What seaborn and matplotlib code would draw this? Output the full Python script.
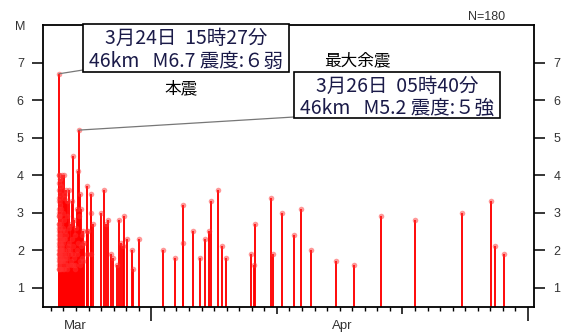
import matplotlib
matplotlib.use("Agg")
from matplotlib import pyplot as plt
from matplotlib.patches import Rectangle
import matplotlib.dates as mdates
import numpy as np
import pandas as pd
import seaborn as sns

# event times (2001, JST) and magnitudes
times = [
    "03-24 15:27", "03-24 15:31", "03-24 15:34", "03-24 15:36", "03-24 15:39", "03-24 15:42",
    "03-24 15:45", "03-24 15:48", "03-24 15:52", "03-24 15:55", "03-24 15:59", "03-24 16:03",
    "03-24 16:07", "03-24 16:12", "03-24 16:16", "03-24 16:21", "03-24 16:27", "03-24 16:33",
    "03-24 16:40", "03-24 16:46", "03-24 16:53", "03-24 17:01", "03-24 17:10", "03-24 17:18",
    "03-24 17:27", "03-24 17:36", "03-24 17:48", "03-24 17:59", "03-24 18:10", "03-24 18:24",
    "03-24 18:37", "03-24 18:51", "03-24 19:05", "03-24 19:20", "03-24 19:36", "03-24 19:52",
    "03-24 20:10", "03-24 20:29", "03-24 20:48", "03-24 21:08", "03-24 21:30", "03-24 21:52",
    "03-24 22:15", "03-24 22:38", "03-24 23:01", "03-24 23:25", "03-24 23:49",
    "03-25 00:14", "03-25 00:40", "03-25 01:05", "03-25 01:32", "03-25 01:58", "03-25 02:25",
    "03-25 02:52", "03-25 03:20", "03-25 03:48", "03-25 04:15", "03-25 04:50", "03-25 05:30",
    "03-25 06:10", "03-25 06:55", "03-25 07:40", "03-25 08:25", "03-25 09:15", "03-25 10:00",
    "03-25 10:50", "03-25 11:40", "03-25 12:30", "03-25 13:25", "03-25 14:20", "03-25 15:15",
    "03-25 15:50", "03-25 16:40", "03-25 17:30", "03-25 18:20", "03-25 19:18", "03-25 20:10",
    "03-25 21:00", "03-25 22:00", "03-25 23:00",
    "03-26 00:10", "03-26 01:20", "03-26 02:30", "03-26 03:20", "03-26 04:20", "03-26 05:40",
    "03-26 06:30", "03-26 07:44", "03-26 08:40", "03-26 09:39", "03-26 10:40", "03-26 11:50",
    "03-26 12:50", "03-26 14:00", "03-26 16:06", "03-26 20:38", "03-26 20:50", "03-26 21:15",
    "03-26 23:35", "03-27 04:45", "03-27 05:10", "03-27 05:35", "03-27 08:00",
    # smaller shocks inside the dense part
    "03-24 15:29", "03-24 15:33", "03-24 15:38", "03-24 15:44", "03-24 15:50", "03-24 15:57",
    "03-24 16:01", "03-24 16:10", "03-24 16:19", "03-24 16:36", "03-24 16:58", "03-24 17:14",
    "03-24 17:42", "03-24 18:03", "03-24 18:45", "03-24 19:12", "03-24 19:45", "03-24 20:20",
    "03-24 21:20", "03-24 22:50", "03-25 00:27", "03-25 02:05", "03-25 03:05", "03-25 05:10",
    "03-25 07:15", "03-25 09:40", "03-25 13:50", "03-25 17:50", "03-25 21:30",
    "03-26 01:50", "03-26 07:10", "03-26 10:10", "03-26 13:20",
    # later, sparse part
    "03-27 23:50", "03-28 06:10", "03-28 08:50", "03-28 13:50", "03-28 19:00", "03-28 23:20",
    "03-29 05:50", "03-29 10:15", "03-29 13:30", "03-29 17:20", "03-29 20:25", "03-30 01:00",
    "03-30 11:40", "03-30 13:00", "03-31 00:30", "04-01 22:55", "04-02 21:15", "04-03 12:00",
    "04-03 12:30", "04-04 07:40", "04-04 21:05", "04-05 07:10", "04-05 13:40", "04-05 18:40",
    "04-06 08:05", "04-06 15:40", "04-06 22:10", "04-08 22:35", "04-09 04:20", "04-09 06:45",
    "04-10 12:15", "04-10 16:00", "04-11 09:15", "04-12 08:45", "04-12 21:35", "04-13 16:40",
    "04-15 17:00", "04-17 04:00", "04-19 07:35", "04-22 00:35", "04-25 17:50", "04-28 01:15",
    "04-28 08:20", "04-29 02:40",
]
mags = [
    6.7, 4.0, 3.8, 2.9, 3.4, 2.5,
    3.1, 2.2, 4.0, 2.7, 1.9, 3.3,
    2.4, 1.8, 3.0, 2.6, 1.6, 2.1,
    3.5, 2.8, 1.7, 2.3, 3.2, 2.0,
    1.5, 2.6, 3.9, 2.2, 1.8, 2.9,
    2.4, 1.6, 3.1, 2.0, 2.7, 1.9,
    3.7, 2.3, 1.7, 2.5, 4.0, 2.1,
    1.8, 3.0, 2.6, 1.5, 2.2,
    3.4, 1.9, 2.8, 4.0, 2.0, 1.7,
    2.5, 3.5, 2.3, 1.6, 3.6, 2.4,
    1.8, 2.9, 3.3, 2.0, 1.6, 2.6,
    3.6, 2.2, 2.0, 1.9, 2.7, 1.7,
    3.3, 2.3, 2.1, 1.6, 4.5, 1.8,
    2.8, 2.4, 1.6,
    2.6, 3.1, 1.9, 4.1, 2.2, 5.2,
    2.9, 3.5, 1.7, 3.1, 2.4, 1.8,
    2.2, 2.5, 2.2, 3.7, 2.5, 1.9,
    2.5, 3.5, 3.0, 1.9, 2.7,
    3.6, 2.0, 1.7, 2.9, 1.5, 2.3,
    1.9, 2.7, 1.5, 3.9, 2.0, 1.7,
    2.4, 1.9, 2.1, 1.5, 2.2, 1.8,
    2.0, 1.7, 2.3, 1.5, 1.8, 1.9,
    1.5, 2.1, 1.6, 1.9, 1.5,
    2.0, 1.6, 2.1, 1.7,
    3.0, 3.6, 2.7, 2.8, 1.9, 1.8,
    1.6, 2.8, 2.2, 2.1, 2.9, 2.3,
    2.0, 1.5, 2.3, 2.0, 1.8, 3.2,
    2.2, 2.5, 1.8, 2.3, 2.5, 3.3,
    3.6, 2.1, 1.8, 1.9, 1.6, 2.7,
    3.4, 1.9, 3.0, 2.4, 3.1, 2.0,
    1.7, 1.6, 2.9, 2.8, 3.0, 3.3,
    2.1, 1.9,
]

main_label = ["3月24日  15時27分", "46km   M6.7 震度:６弱"]
after_label = ["3月26日  05時40分", "46km   M5.2 震度:５強"]
main_time = "03-24 15:27"
after_time = "03-26 05:40"

df = pd.DataFrame({"time": pd.to_datetime(["2001-" + t for t in times]), "mag": mags})

sns.set_style("ticks")
plt.rcParams["font.family"] = ["Liberation Sans", "Noto Sans CJK JP"]
CJK = ["Noto Sans CJK JP", "DejaVu Sans"]

W, H = 573, 333
fig = plt.figure(figsize=(W / 100, H / 100), dpi=100)

def fx(px):
    return px / W

def fy(py):
    return 1 - py / H

ax = fig.add_axes([fx(43.3), fy(306.5), fx(534) - fx(43.3), fy(25) - fy(306.5)])

ax.vlines(df["time"], 0.5, df["mag"], color="#ff0000", lw=1.35, zorder=2)
sns.scatterplot(data=df, x="time", y="mag", ax=ax, color="#ff3030", s=16,
                alpha=0.5, linewidth=0, zorder=3, legend=False)

ax.set_xlim(pd.Timestamp("2001-03-23 09:36"), pd.Timestamp("2001-05-01 11:30"))
ax.set_ylim(0.5, 8.0)
ax.set_xlabel("")
ax.set_ylabel("")

for s in ax.spines.values():
    s.set_visible(True)
    s.set_color("black")
    s.set_linewidth(1.3)

# x: daily ticks, longer at 11th/21st, longest at month start
major = pd.to_datetime(["2001-04-01", "2001-04-11", "2001-04-21", "2001-05-01"])
ax.set_xticks(mdates.date2num(major))
ax.set_xticks(mdates.date2num(pd.date_range("2001-03-24", "2001-05-01", freq="D")), minor=True)
ax.set_xticklabels([])
ax.tick_params(axis="x", which="minor", length=3.2, width=1.0, direction="out", color="black")
ax.tick_params(axis="x", which="major", length=5, width=1.1, direction="out", color="black")
for tick, d in zip(ax.xaxis.get_major_ticks(), major):
    tick.tick1line.set_markersize(10 if d.day == 1 else 5)

ax.text(mdates.date2num(pd.Timestamp("2001-03-25 22:00")), -0.07, "Mar",
        transform=ax.get_xaxis_transform(), ha="center", va="center", fontsize=9.5, color="#333")
ax.text(mdates.date2num(pd.Timestamp("2001-04-16 04:00")), -0.07, "Apr",
        transform=ax.get_xaxis_transform(), ha="center", va="center", fontsize=9.5, color="#333")

ax.set_yticks(range(1, 8))
ax.tick_params(axis="y", left=True, right=True, labelleft=True, labelright=True,
               length=8, width=1.1, pad=6, labelsize=9, color="black", labelcolor="#333")

fig.text(fx(20), fy(27), "M", ha="center", va="center", fontsize=9, color="#333")
fig.text(fx(487), fy(17), f"N={len(mags)}", ha="center", va="center", fontsize=9, color="#333")

# annotation boxes
def box(x0, y0, x1, y1, lines, ys):
    fig.add_artist(Rectangle((fx(x0), fy(y1)), fx(x1) - fx(x0), fy(y0) - fy(y1),
                             transform=fig.transFigure, facecolor="white",
                             edgecolor="black", lw=1.2, zorder=5))
    for txt, yy in zip(lines, ys):
        fig.text(fx((x0 + x1) / 2), fy(yy), txt, ha="center", va="center",
                 fontsize=14, color="#1a1a48", zorder=6, family=CJK)

box(83, 24, 289, 72, main_label, [38.5, 61])
box(294, 72, 500, 118, after_label, [86.5, 108])

ax.annotate("", xy=(pd.Timestamp("2001-" + main_time), 6.7), xytext=(fx(83), fy(70)),
            textcoords="figure fraction",
            arrowprops=dict(arrowstyle="-", color="#777", lw=0.9, shrinkA=0, shrinkB=0))
ax.annotate("", xy=(pd.Timestamp("2001-" + after_time), 5.2), xytext=(fx(294), fy(117)),
            textcoords="figure fraction",
            arrowprops=dict(arrowstyle="-", color="#777", lw=0.9, shrinkA=0, shrinkB=0))

fig.text(fx(181), fy(89), "本震", ha="center", va="center", fontsize=12, color="black", family=CJK)
fig.text(fx(357), fy(61), "最大余震", ha="center", va="center", fontsize=12, color="black", family=CJK)

fig.savefig("out.png", dpi=100)
